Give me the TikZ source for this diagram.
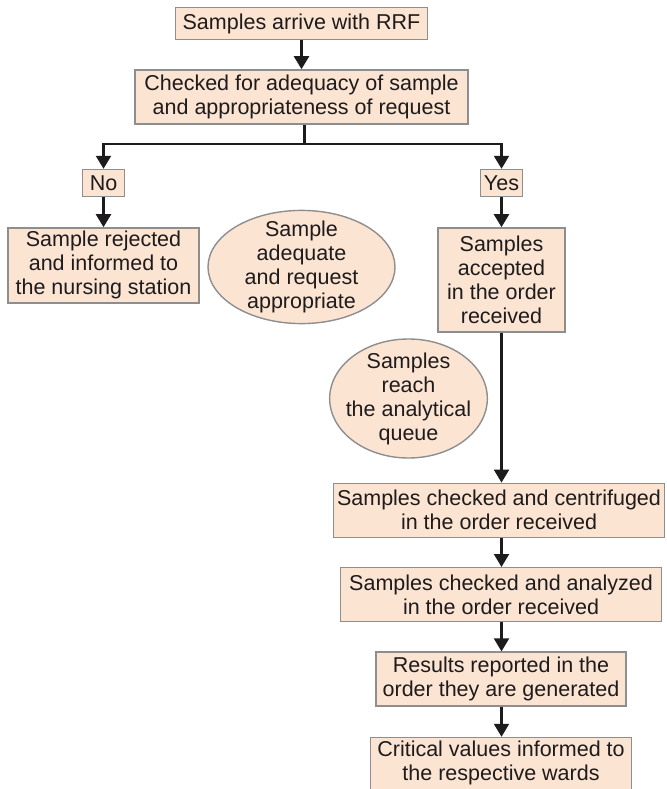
\documentclass[tikz,border=0pt]{standalone}
\usepackage{fontspec}
\setmainfont{Liberation Sans}
\usetikzlibrary{positioning,shapes.geometric,arrows.meta}
\definecolor{peach}{HTML}{FCE4D3}
\definecolor{rim}{HTML}{8E8E8E}
\definecolor{ink}{HTML}{1E1B1C}
\tikzset{
  box/.style={draw=rim,fill=peach,line width=1.4pt,align=center,inner sep=0pt,
    text=ink,font=\fontsize{21.5}{24}\selectfont},
  oval/.style={box,ellipse},
  arr/.style={line width=2.2pt,draw=ink,-{Triangle[width=15pt,length=13pt]}},
  link/.style={line width=2.2pt,draw=ink}
}
\begin{document}
\begin{tikzpicture}[x=1pt,y=-1pt]
\useasboundingbox (0,0) rectangle (666,789);
\node[box,minimum width=252pt,minimum height=32pt] (arrive) at (301.5,23.5) {Samples arrive with RRF};
\node[box,minimum width=333pt,minimum height=54pt,below=29pt of arrive] (check) {Checked for adequacy of sample\\and appropriateness of request};
\node[box,minimum width=42pt,minimum height=27pt] (no) at (103.5,183) {No};
\node[box,minimum width=42pt,minimum height=27pt] (yes) at (501.5,183) {Yes};
\node[box,minimum width=191pt,minimum height=75pt,below=30pt of no] (reject) {Sample rejected\\and informed to\\the nursing station};
\node[box,minimum width=127pt,minimum height=104pt,below=30pt of yes] (accept) {Samples\\accepted\\in the order\\received};
\node[oval,minimum width=187pt,minimum height=112pt,inner ysep=-6pt] (adequate) at (301.5,267) {Sample\\adequate\\and request\\appropriate};
\node[oval,minimum width=157pt,minimum height=119pt,inner xsep=-7pt,inner ysep=-4pt] (queue) at (408.5,398.5) {Samples\\reach\\the analytical\\queue};
\node[box,minimum width=331pt,minimum height=54pt,below=150pt of accept,xshift=-2.5pt] (spin) {Samples checked and centrifuged\\in the order received};
\node[box,minimum width=321pt,minimum height=54pt,below=29pt of spin,xshift=2pt] (analyze) {Samples checked and analyzed\\in the order received};
\node[box,minimum width=250pt,minimum height=54pt,below=29pt of analyze] (report) {Results reported in the\\order they are generated};
\node[box,minimum width=261pt,minimum height=60pt,below=30pt of report,text depth=13pt] (critical) {Critical values informed to\\the respective wards};

\coordinate (fork) at ([xshift=3pt,yshift=-19pt]check.south);
\draw[arr] (arrive) -- (check);
\draw[link] ([xshift=3pt]check.south) -- (fork);
\draw[arr] (fork) -| (no);
\draw[arr] (fork) -| (yes);
\draw[arr] (no) -- (reject);
\draw[arr] (yes) -- (accept);
\draw[arr] (accept) -- (accept |- spin.north);
\draw[arr] (spin.south -| accept) -- (analyze.north -| accept);
\draw[arr] (analyze.south -| accept) -- (report.north -| accept);
\draw[arr] (report.south -| accept) -- (critical.north -| accept);
\end{tikzpicture}
\end{document}
